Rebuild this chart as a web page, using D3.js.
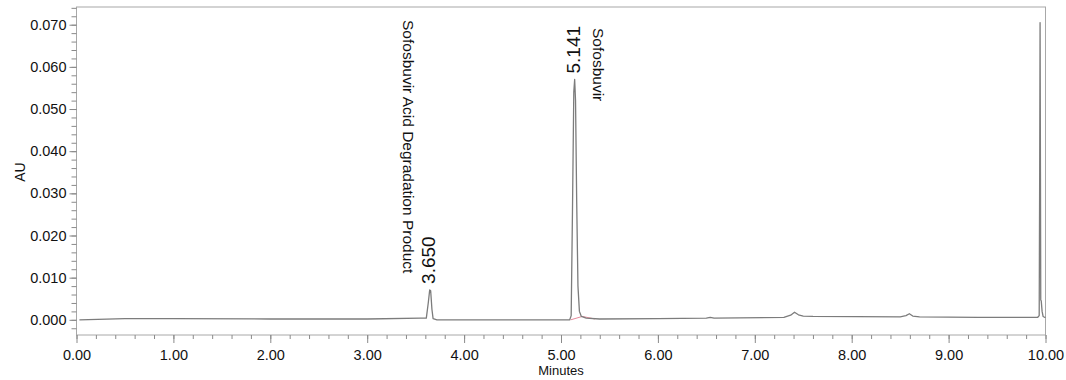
<!DOCTYPE html>
<html>
<head>
<meta charset="utf-8">
<script src="https://cdn.jsdelivr.net/npm/d3@7/dist/d3.min.js"></script>
<style>
  body { margin: 0; background: #fff; }
  svg { display: block; font-family: Arial, "Liberation Sans", sans-serif; }
  .tick text { fill: #111; }
</style>
</head>
<body>
<div id="chart"></div>
<script>
// chromatogram trace (minutes, AU)
const traceTime = [0.03, 0.5, 1.0, 2.0, 3.0, 3.55, 3.61, 3.63, 3.645, 3.655, 3.668, 3.68, 3.72,
  4.5, 5.0, 5.09, 5.105, 5.118, 5.132, 5.141, 5.150, 5.162, 5.175, 5.19, 5.21, 5.26, 5.4,
  6.0, 6.5, 6.54, 6.58, 7.3, 7.37, 7.41, 7.45, 7.5, 7.6, 8.5, 8.56, 8.595, 8.63, 8.7,
  9.3, 9.92, 9.935, 9.940, 9.944, 9.948, 9.951, 9.956, 9.965, 9.975, 9.99, 10.0];
const traceAU = [0.0000, 0.0003, 0.0003, 0.0002, 0.0002, 0.0004, 0.0004, 0.0040, 0.0071, 0.0069, 0.0025, 0.0003, 0.0000,
  0.0000, 0.0000, 0.0000, 0.0010, 0.0250, 0.0540, 0.0570, 0.0520, 0.0280, 0.0080, 0.0020, 0.0008, 0.0004, 0.0002,
  0.0003, 0.0004, 0.0006, 0.0004, 0.0006, 0.0011, 0.0018, 0.0012, 0.0009, 0.0008, 0.0007, 0.0010, 0.00145, 0.0009, 0.0007,
  0.0006, 0.0006, 0.0010, 0.0350, 0.0705, 0.0350, 0.0047, 0.0045, 0.0020, 0.0008, 0.0006, 0.0006];

// integration baseline under the main peak
const baseTime = [5.10, 5.22, 5.35];
const baseAU = [0.0000, 0.0008, 0.0002];

// peak annotations
const peakTimes = [3.650, 5.141];
const peakHeights = [0.0071, 0.0570];
const peakLabels = ["3.650", "5.141"];
const peakNames = ["Sofosbuvir Acid Degradation Product", "Sofosbuvir"];

const xMajor = [0, 1, 2, 3, 4, 5, 6, 7, 8, 9, 10];
const yMajor = [0, 0.01, 0.02, 0.03, 0.04, 0.05, 0.06, 0.07];

const width = 1066, height = 380;
const margin = {top: 7, right: 20.5, bottom: 45, left: 76.5};

const svg = d3.select("#chart").append("svg")
  .attr("width", width)
  .attr("height", height);

const x = d3.scaleLinear().domain([0, 10]).range([margin.left, width - margin.right]);
const y = d3.scaleLinear().domain([-0.0036, 0.0742]).range([height - margin.bottom, margin.top]);

// frame
svg.append("rect")
  .attr("x", margin.left).attr("y", margin.top)
  .attr("width", width - margin.left - margin.right)
  .attr("height", height - margin.top - margin.bottom)
  .attr("fill", "none").attr("stroke", "#a8a8a8");

const bottom = height - margin.bottom;

// x axis: minor + major ticks
const xMinor = svg.append("g")
  .attr("transform", `translate(0,${bottom})`)
  .call(d3.axisBottom(x).tickValues(d3.range(0, 10.01, 0.2)).tickSize(4).tickFormat(""));
const xAxis = svg.append("g")
  .attr("transform", `translate(0,${bottom})`)
  .call(d3.axisBottom(x).tickValues(xMajor).tickSize(8).tickPadding(7).tickFormat(d3.format(".2f")));

// y axis
const yMinor = svg.append("g")
  .attr("transform", `translate(${margin.left},0)`)
  .call(d3.axisLeft(y).tickValues(d3.range(-0.002, 0.0745, 0.002)).tickSize(5).tickFormat(""));
const yAxis = svg.append("g")
  .attr("transform", `translate(${margin.left},0)`)
  .call(d3.axisLeft(y).tickValues(yMajor).tickSize(7).tickPadding(3).tickFormat(d3.format(".3f")));

[xMinor, xAxis, yMinor, yAxis].forEach(g => {
  g.select(".domain").remove();
  g.selectAll(".tick line").attr("stroke", "#8a8a8a");
  g.selectAll(".tick text").attr("font-size", 14.5).attr("font-family", "Arial, 'Liberation Sans', sans-serif");
});

svg.append("text")
  .attr("x", (margin.left + width - margin.right) / 2)
  .attr("y", 375)
  .attr("text-anchor", "middle")
  .attr("font-size", 13)
  .attr("fill", "#111")
  .text("Minutes");

svg.append("text")
  .attr("transform", "translate(25,172) rotate(-90)")
  .attr("text-anchor", "middle")
  .attr("font-size", 14)
  .attr("fill", "#111")
  .text("AU");

// trace
const points = traceTime.map((t, i) => [t, traceAU[i]]);
const basePts = baseTime.map((t, i) => [t, baseAU[i]]);
const line = d3.line().x(d => x(d[0])).y(d => y(d[1]));

svg.append("path")
  .datum(basePts)
  .attr("d", line)
  .attr("fill", "none")
  .attr("stroke", "#e58a9c")
  .attr("stroke-width", 1);

svg.append("path")
  .datum(points)
  .attr("d", line)
  .attr("fill", "none")
  .attr("stroke", "#7c7c7c")
  .attr("stroke-width", 1.3)
  .attr("stroke-linejoin", "round");

// peak labels
const nameOffsets = [-22, 24];
const nameTops = [20, 28];
peakTimes.forEach((t, i) => {
  svg.append("text")
    .attr("transform", `translate(${x(t) - 1.5},${y(peakHeights[i]) - 6}) rotate(-90)`)
    .attr("dy", "0.35em")
    .attr("font-size", 19)
    .attr("fill", "#111")
    .text(peakLabels[i]);
  svg.append("text")
    .attr("transform", `translate(${x(t) + nameOffsets[i]},${nameTops[i]}) rotate(90)`)
    .attr("dy", "0.35em")
    .attr("font-size", 15.5)
    .attr("fill", "#111")
    .text(peakNames[i]);
});
</script>
</body>
</html>
